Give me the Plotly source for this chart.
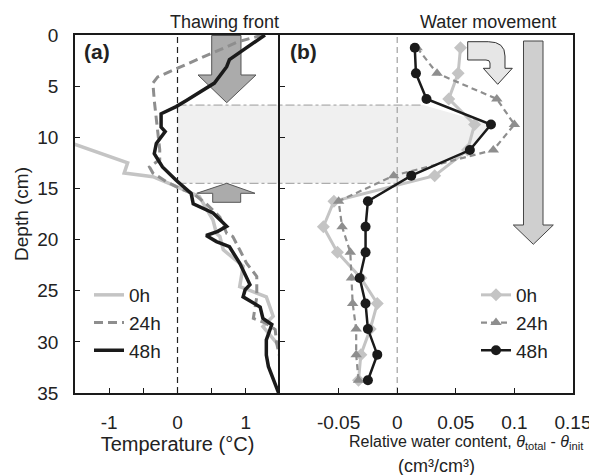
import numpy as np
import plotly.graph_objects as go

# ---------------- data ----------------
# Panel (a): temperature profiles (depth cm, temperature degC)
depth_a_0h = [10.65, 12.5, 13.5, 13.85, 14.8, 15.8, 18.1, 19.4, 19.7, 21.0, 22.6, 24.6, 24.9, 25.6, 27.5, 28.5, 30.1, 31.0]
temp_a_0h = [-1.52, -0.73, -0.78, -0.36, -0.02, 0.32, 0.52, 0.57, 0.62, 0.67, 0.96, 0.91, 1.03, 1.30, 1.40, 1.25, 1.45, 1.56]

depth_a_24h = [0.0, 0.65, 4.1, 4.7, 6.4, 8.0, 9.6, 11.2, 12.2, 12.9, 13.5, 14.3, 15.0, 15.5, 16.5, 17.8, 19.4, 19.7, 21.0, 22.3, 23.6, 25.6, 27.7, 28.2, 28.8, 30.1, 31.6, 33.0]
temp_a_24h = [1.25, 0.89, -0.29, -0.36, -0.34, -0.31, -0.29, -0.26, -0.26, -0.41, -0.36, -0.17, 0.03, 0.23, 0.42, 0.62, 0.72, 0.81, 0.91, 1.01, 1.16, 1.16, 1.11, 1.30, 1.43, 1.45, 1.50, 1.56]

depth_a_48h = [0.0, 2.4, 3.1, 4.7, 6.4, 7.0, 7.7, 9.0, 9.45, 10.6, 11.6, 12.9, 14.2, 15.5, 16.5, 17.4, 18.7, 19.2, 19.6, 20.2, 20.7, 22.3, 24.4, 24.9, 25.6, 26.6, 27.7, 28.3, 29.8, 31.3, 32.4, 35.0]
temp_a_48h = [1.28, 0.76, 0.72, 0.54, 0.13, -0.02, -0.24, -0.24, -0.18, -0.31, -0.34, -0.22, -0.02, 0.20, 0.23, 0.52, 0.72, 0.59, 0.42, 0.57, 0.76, 0.91, 1.06, 0.99, 0.96, 1.21, 1.25, 1.38, 1.30, 1.30, 1.33, 1.48]

# Panel (b): relative water content (cm3/cm3)
depth_b = [1.25, 3.75, 6.25, 8.75, 11.25, 13.75, 16.25, 18.75, 21.25, 23.75, 26.25, 28.75, 31.25, 33.75]
rwc_0h = [0.054, 0.052, 0.044, 0.066, 0.060, 0.032, -0.054, -0.063, -0.051, -0.031, -0.017, -0.023, -0.031, -0.033]
rwc_24h = [0.017, 0.034, 0.085, 0.100, 0.082, -0.003, -0.050, -0.047, -0.040, -0.039, -0.038, -0.035, -0.035, -0.033]
rwc_48h = [0.015, 0.016, 0.025, 0.080, 0.062, 0.012, -0.025, -0.027, -0.027, -0.032, -0.027, -0.025, -0.017, -0.025]

labels = ["0h", "24h", "48h"]

depth_ticks = [0, 5, 10, 15, 20, 25, 30, 35]
temp_tickvals = [-1, 0, 1]
temp_ticktext = ["-1", "0", "1"]
rwc_tickvals = [-0.05, 0, 0.05, 0.1, 0.15]
rwc_ticktext = ["-0.05", "0", "0.05", "0.1", "0.15"]

# thawing-front zone (cm)
front_top, front_bottom = 6.85, 14.5

# ---------------- layout geometry (screen pixels) ----------------
BODY = 8                      # default page margin of the html body
SW, SH = 597, 475
PL, PR, PT, PB = 75, 573, 35, 393
A_RANGE = [-1.5, 1.5]
B_RANGE = [-0.1, 0.15]
split = (280 - PL) / (PR - PL)
dom_a = [0, split]
dom_b = [split, 1]

def px_x(px):
    return (px - PL) / (PR - PL)

def px_y(py):
    return (PB - py) / (PB - PT)

def a_to_paper(t):
    return dom_a[0] + (t - A_RANGE[0]) / (A_RANGE[1] - A_RANGE[0]) * (dom_a[1] - dom_a[0])

def b_to_paper(v):
    return dom_b[0] + (v - B_RANGE[0]) / (B_RANGE[1] - B_RANGE[0]) * (dom_b[1] - dom_b[0])

def poly(points_px):
    return "M " + " L ".join(f"{px_x(x):.5f},{px_y(y):.5f}" for x, y in points_px) + " Z"

FONT = "Liberation Sans, Arial, sans-serif"
C0, C24, C48 = "#c4c4c4", "#8e8e8e", "#1a1a1a"

fig = go.Figure()

# panel (a) traces
fig.add_trace(go.Scatter(x=temp_a_0h, y=depth_a_0h, mode="lines", name=labels[0],
                         line=dict(color=C0, width=3.5), xaxis="x", yaxis="y",
                         legend="legend", legendgroup="a0"))
fig.add_trace(go.Scatter(x=temp_a_24h, y=depth_a_24h, mode="lines", name=labels[1],
                         line=dict(color=C24, width=3, dash="9px,5px"), xaxis="x", yaxis="y",
                         legend="legend", legendgroup="a1"))
fig.add_trace(go.Scatter(x=temp_a_48h, y=depth_a_48h, mode="lines", name=labels[2],
                         line=dict(color=C48, width=3.5), xaxis="x", yaxis="y",
                         legend="legend", legendgroup="a2"))

# panel (b) traces
fig.add_trace(go.Scatter(x=rwc_0h, y=depth_b, mode="lines+markers", name=labels[0],
                         line=dict(color=C0, width=3), marker=dict(symbol="diamond", size=10, color=C0),
                         xaxis="x2", yaxis="y2", legend="legend2", legendgroup="b0"))
fig.add_trace(go.Scatter(x=rwc_24h, y=depth_b, mode="lines+markers", name=labels[1],
                         line=dict(color=C24, width=2.2, dash="6px,4px"),
                         marker=dict(symbol="triangle-up", size=10, color=C24),
                         xaxis="x2", yaxis="y2", legend="legend2", legendgroup="b1"))
fig.add_trace(go.Scatter(x=rwc_48h, y=depth_b, mode="lines+markers", name=labels[2],
                         line=dict(color=C48, width=2.5), marker=dict(symbol="circle", size=10, color=C48),
                         xaxis="x2", yaxis="y2", legend="legend2", legendgroup="b2"))

shapes = []
# shaded thawing zone spanning both panels
top_end = 0.022
bot_end = 0.006
mid_d = [d for d in depth_b if front_top < d < front_bottom]
mid_v = [v for d, v in zip(depth_b, rwc_48h) if front_top < d < front_bottom]
pts = [(a_to_paper(0), front_top), (b_to_paper(top_end), front_top)]
pts += [(b_to_paper(v), d) for v, d in zip(mid_v, mid_d)]
pts += [(b_to_paper(bot_end), front_bottom), (a_to_paper(0), front_bottom)]
path = "M " + " L ".join(f"{x:.5f},{y:.4f}" for x, y in pts) + " Z"
shapes.append(dict(type="path", path=path, xref="paper", yref="y", layer="below",
                   fillcolor="#f0f0f0", line=dict(width=0)))
for d, end in [(front_top, top_end), (front_bottom, bot_end)]:
    shapes.append(dict(type="line", xref="paper", yref="y", x0=a_to_paper(0), x1=b_to_paper(end),
                       y0=d, y1=d, line=dict(color="#9a9a9a", width=1, dash="dashdot"), layer="below"))

# zero lines
shapes.append(dict(type="line", xref="x", yref="paper", x0=0, x1=0, y0=0, y1=1,
                   line=dict(color="#222", width=1.2, dash="6px,4px"), layer="below"))
shapes.append(dict(type="line", xref="x2", yref="paper", x0=0, x1=0, y0=0, y1=1,
                   line=dict(color="#a0a0a0", width=1.2, dash="6px,4px"), layer="below"))

# thawing front arrows
shapes.append(dict(type="path", xref="paper", yref="paper", layer="below",
                   path=poly([(211.7, 35.5), (241, 35.5), (241, 75), (256, 75), (226.7, 102.7), (198, 75), (211.7, 75)]),
                   fillcolor="#ababab", line=dict(color="#555", width=1)))
shapes.append(dict(type="path", xref="paper", yref="paper", layer="below",
                   path=poly([(226.7, 183.3), (255, 193.3), (240.7, 193.3), (240.7, 202.3), (212.7, 202.3), (212.7, 193.3), (196.7, 193.3)]),
                   fillcolor="#ababab", line=dict(color="#555", width=1)))
# water movement arrows
shapes.append(dict(type="path", xref="paper", yref="paper", layer="below",
                   path=poly([(523.5, 41), (543, 41), (543, 225), (553.3, 225), (533.3, 244.3), (513.3, 225), (523.5, 225)]),
                   fillcolor="#cfcfcf", line=dict(color="#444", width=1)))
curved = (f"M {px_x(467.7):.5f},{px_y(41.7):.5f} L {px_x(488.3):.5f},{px_y(41.7):.5f} "
          f"Q {px_x(505):.5f},{px_y(41.7):.5f} {px_x(505):.5f},{px_y(56):.5f} "
          f"L {px_x(505):.5f},{px_y(68.3):.5f} L {px_x(512.3):.5f},{px_y(68.3):.5f} "
          f"L {px_x(497.7):.5f},{px_y(84.3):.5f} L {px_x(483.3):.5f},{px_y(68.3):.5f} "
          f"L {px_x(490):.5f},{px_y(68.3):.5f} L {px_x(490):.5f},{px_y(63):.5f} "
          f"Q {px_x(490):.5f},{px_y(60):.5f} {px_x(486):.5f},{px_y(60):.5f} "
          f"L {px_x(467.7):.5f},{px_y(60):.5f} Z")
shapes.append(dict(type="path", xref="paper", yref="paper", path=curved,
                   fillcolor="#e6e6e6", line=dict(color="#333", width=1)))

def note(text, x, y, size, **kw):
    return dict(text=text, x=px_x(x), y=px_y(y), xref="paper", yref="paper", showarrow=False,
                xanchor="center", yanchor="middle", font=dict(size=size, color="#222", family=FONT), **kw)

annotations = [
    note("Thawing front", 224, 22, 18),
    note("Water movement", 488, 22, 18),
    note("<b>(a)</b>", 97, 52, 21),
    note("<b>(b)</b>", 303, 52, 21),
    note("Relative water content, <i>θ</i><sub>total</sub> - <i>θ</i><sub>init</sub>", 466, 443, 16),
    note("(cm³/cm³)", 436, 466, 18),
]

axis_common = dict(showgrid=False, zeroline=False, showline=True, linecolor="#1a1a1a", linewidth=1.6,
                   ticks="inside", ticklen=5, tickcolor="#1a1a1a", tickwidth=1.2,
                   tickfont=dict(size=19, color="#222", family=FONT))

fig.update_layout(
    width=SW - BODY, height=SH - BODY,
    margin=dict(l=PL - BODY, r=SW - PR, t=PT - BODY, b=SH - PB, autoexpand=False),
    paper_bgcolor="white", plot_bgcolor="white",
    font=dict(family=FONT, size=19, color="#222"),
    xaxis=dict(domain=dom_a, range=A_RANGE, tickvals=temp_tickvals, ticktext=temp_ticktext,
               minor=dict(ticks="inside", ticklen=5, tickwidth=1.2, tickcolor="#1a1a1a", dtick=0.5, tick0=0),
               title=dict(text="Temperature (°C)", standoff=2, font=dict(size=20)),
               ticklabelstandoff=11, anchor="y", mirror=True, **axis_common),
    xaxis2=dict(domain=dom_b, range=B_RANGE, tickvals=rwc_tickvals, ticktext=rwc_ticktext,
                ticklabelstandoff=11, anchor="y2", mirror=True, **axis_common),
    yaxis=dict(range=[35, 0], tickvals=depth_ticks, anchor="x",
               title=dict(text="Depth (cm)", standoff=4, font=dict(size=19)),
               ticklabelstandoff=11, mirror=False, **axis_common),
    yaxis2=dict(range=[35, 0], tickvals=depth_ticks, anchor="x2", matches="y",
                showticklabels=False, mirror=True, **axis_common),
    legend=dict(x=px_x(89), y=px_y(276), xanchor="left", yanchor="top", bgcolor="rgba(0,0,0,0)",
                font=dict(size=19, family=FONT), tracegroupgap=0, itemwidth=30),
    legend2=dict(x=px_x(476), y=px_y(276), xanchor="left", yanchor="top", bgcolor="rgba(0,0,0,0)",
                 font=dict(size=19, family=FONT), tracegroupgap=0, itemwidth=30),
    shapes=shapes,
    annotations=annotations,
)

fig.write_html("out.html")
